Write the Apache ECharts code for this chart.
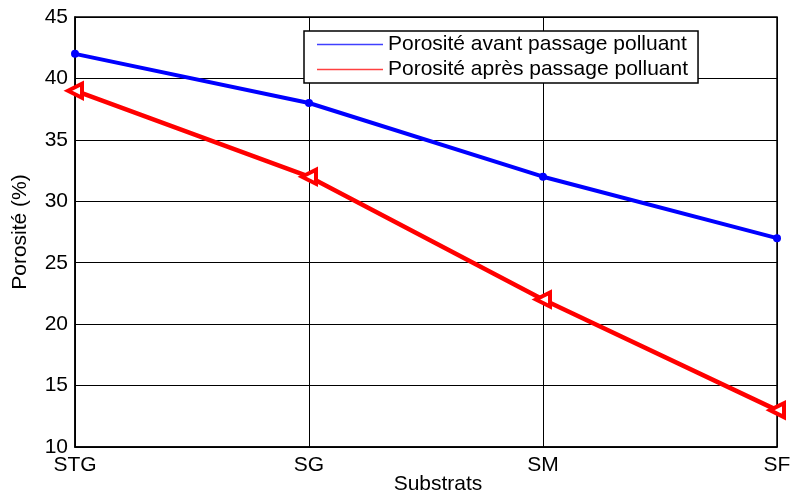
<!DOCTYPE html>
<html><head><meta charset="utf-8">
<script src="https://cdn.jsdelivr.net/npm/echarts@6/dist/echarts.min.js"></script>
<style>html,body{margin:0;padding:0;background:#fff}#c{width:790px;height:495px}</style>
</head><body><div id="c"></div>
<script>
const categories = ['STG', 'SG', 'SM', 'SF'];
const avant = [42, 38, 32, 27];
const apres = [39, 32, 22, 13];
const yTicks = { min: 10, max: 45, interval: 5 };
const names = ['Porosité avant passage polluant', 'Porosité après passage polluant'];

const font = 'Liberation Sans, Arial, sans-serif';
const fs = 21;
const chart = echarts.init(document.getElementById('c'));
chart.setOption({
  animation: false,
  backgroundColor: '#fff',
  grid: { left: 75, right: 13, top: 17, bottom: 48, show: true, borderColor: '#000', borderWidth: 1.5,
          containLabel: false, outerBoundsMode: 'none' },
  legend: {
    orient: 'vertical', left: 304, top: 31,
    backgroundColor: '#fff', borderColor: '#000', borderWidth: 1.5, borderRadius: 0,
    padding: [3, 10, 3, 13], itemGap: 4,
    itemWidth: 66, itemHeight: 1.6, icon: 'rect',
    textStyle: { fontFamily: font, fontSize: fs, color: '#000' },
    data: [
      { name: names[0], itemStyle: { color: '#4040ff', borderWidth: 0 } },
      { name: names[1], itemStyle: { color: '#ff4040', borderWidth: 0 } }
    ]
  },
  xAxis: {
    type: 'category', data: categories, boundaryGap: false,
    name: 'Substrats', nameLocation: 'middle', nameGap: 27, nameMoveOverlap: false,
    nameTextStyle: { fontFamily: font, fontSize: fs, color: '#000', padding: [0, 0, 0, 24] },
    axisLine: { lineStyle: { color: '#000', width: 1.5 } },
    axisTick: { show: true, inside: true, length: 6, lineStyle: { color: '#000' } },
    axisLabel: { fontFamily: font, fontSize: fs, color: '#000', margin: 8 },
    splitLine: { show: true, lineStyle: { color: '#000', width: 1 } }
  },
  yAxis: {
    type: 'value', min: yTicks.min, max: yTicks.max, interval: yTicks.interval,
    name: 'Porosité (%)', nameLocation: 'middle', nameGap: 44, nameMoveOverlap: false,
    nameTextStyle: { fontFamily: font, fontSize: fs, color: '#000' },
    axisLine: { show: true, lineStyle: { color: '#000', width: 1.5 } },
    axisTick: { show: true, inside: true, length: 6, lineStyle: { color: '#000' } },
    axisLabel: { fontFamily: font, fontSize: fs, color: '#000', margin: 7 },
    splitLine: { show: true, lineStyle: { color: '#000', width: 1 } }
  },
  series: [
    { name: names[0], type: 'line', data: avant, symbol: 'circle', symbolSize: 8,
      lineStyle: { color: '#0000ff', width: 4 }, itemStyle: { color: '#0000ff' } },
    { name: names[1], type: 'line', data: apres, symbol: 'triangle', symbolSize: 14, symbolRotate: 90,
      lineStyle: { color: '#ff0000', width: 4.5 }, itemStyle: { color: '#ffffff', borderColor: '#ff0000', borderWidth: 4 } }
  ]
});
</script></body></html>
